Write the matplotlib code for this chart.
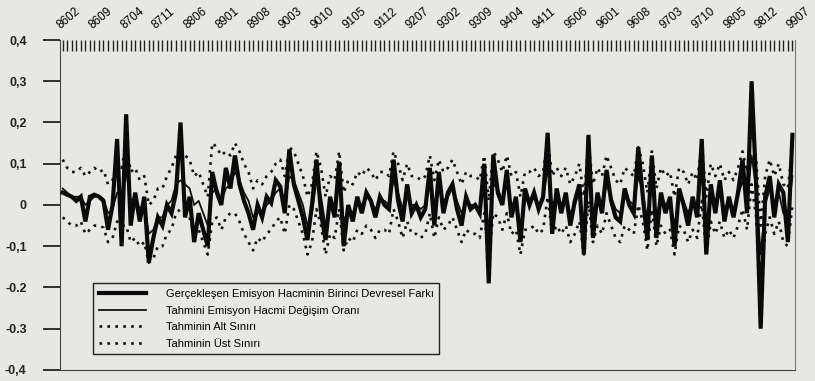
import matplotlib
matplotlib.use("Agg")
import matplotlib.pyplot as plt
from matplotlib.ticker import MultipleLocator

# monthly data 8602 .. 9907 (YYMM)
tick_labels = ["8602", "8609", "8704", "8711", "8806", "8901", "8908", "9003",
               "9010", "9105", "9112", "9207", "9302", "9309", "9404", "9411",
               "9506", "9601", "9608", "9703", "9710", "9805", "9812", "9907"]

# Gerçekleşen emisyon hacminin birinci devresel farkı
actual = [0.03, 0.025, 0.02, 0.01, 0.02, -0.04, 0.02, 0.025, 0.02, 0.01, -0.06, 0.0,
          0.16, -0.10, 0.22, -0.05, 0.03, -0.04, 0.02, -0.14, -0.08, -0.03, -0.05, 0.0,
          -0.02, 0.03, 0.20, -0.03, 0.02, -0.09, -0.02, -0.06, -0.10, 0.08, 0.03, 0.0,
          0.09, 0.04, 0.12, 0.05, 0.01, -0.02, -0.06, 0.0, -0.03, 0.02, 0.005, 0.06,
          0.045, -0.02, 0.135, 0.05, 0.01, -0.03, -0.085, 0.0, 0.11, -0.02, -0.085, 0.02,
          -0.03, 0.105, -0.10, 0.0, -0.04, 0.02, -0.02, 0.03, 0.01, -0.03, 0.02, 0.0,
          -0.01, 0.11, 0.01, -0.04, 0.05, -0.02, 0.0, -0.03, -0.01, 0.09, -0.05, 0.08,
          -0.02, 0.03, 0.05, -0.01, -0.05, 0.02, -0.01, 0.0, -0.02, 0.10, -0.19, 0.12,
          0.03, 0.0, 0.085, -0.03, 0.02, -0.09, 0.04, 0.0, 0.03, -0.01, 0.02, 0.175,
          -0.07, 0.04, -0.02, 0.03, -0.05, 0.01, 0.05, -0.12, 0.17, -0.08, 0.03, -0.02,
          0.085, 0.01, -0.03, -0.04, 0.04, 0.0, -0.02, 0.14, 0.02, -0.085, 0.12, -0.08,
          0.03, -0.02, 0.02, -0.10, 0.04, 0.0, -0.05, 0.02, -0.03, 0.16, -0.12, 0.05,
          -0.02, 0.06, -0.04, 0.02, -0.03, 0.03, 0.11, -0.02, 0.30, 0.05, -0.30, 0.02,
          0.07, -0.03, 0.05, 0.03, -0.09, 0.17]

# Tahmini emisyon hacmi değişim oranı
forecast = [0.04, 0.03, 0.02, 0.02, 0.02, 0.0, 0.01, 0.02, 0.02, 0.015, -0.02, -0.01,
            0.03, 0.02, 0.08, 0.01, 0.02, -0.01, 0.0, -0.07, -0.06, -0.03, -0.03, 0.0,
            0.01, 0.05, 0.06, 0.05, 0.04, 0.0, 0.01, -0.02, -0.05, 0.03, 0.04, 0.01,
            0.04, 0.05, 0.08, 0.06, 0.03, 0.01, -0.03, -0.01, -0.02, 0.0, 0.01, 0.03,
            0.04, 0.0, 0.07, 0.06, 0.03, 0.0, -0.05, -0.02, 0.06, 0.02, -0.05, 0.0,
            -0.01, 0.06, -0.04, -0.01, -0.02, 0.01, 0.0, 0.02, 0.01, -0.01, 0.01, 0.01,
            0.0, 0.06, 0.03, -0.01, 0.03, 0.0, 0.0, -0.01, 0.0, 0.05, -0.01, 0.04,
            0.01, 0.02, 0.04, 0.01, -0.02, 0.01, 0.0, 0.0, -0.01, 0.05, -0.06, 0.05,
            0.04, 0.01, 0.05, 0.0, 0.01, -0.05, 0.01, 0.01, 0.02, 0.0, 0.01, 0.09,
            0.0, 0.02, 0.0, 0.02, -0.02, 0.0, 0.03, -0.05, 0.08, -0.02, 0.02, 0.0,
            0.05, 0.02, -0.01, -0.02, 0.02, 0.01, 0.0, 0.07, 0.03, -0.04, 0.06, -0.03,
            0.02, 0.0, 0.01, -0.05, 0.02, 0.01, -0.02, 0.01, -0.01, 0.08, -0.05, 0.03,
            0.0, 0.03, -0.01, 0.01, -0.01, 0.02, 0.06, 0.01, 0.12, 0.04, -0.12, 0.0,
            0.04, 0.0, 0.03, -0.02, -0.03, 0.07]

# Tahminin alt sınırı
lower = [-0.03, -0.04, -0.05, -0.05, -0.04, -0.07, -0.06, -0.05, -0.05, -0.055, -0.09, -0.08,
         -0.04, -0.05, -0.05, -0.09, -0.08, -0.10, -0.09, -0.14, -0.13, -0.10, -0.10, -0.07,
         -0.06, -0.02, -0.01, -0.02, -0.03, -0.07, -0.06, -0.09, -0.12, -0.04, -0.03, -0.06,
         -0.03, -0.02, -0.02, -0.04, -0.07, -0.09, -0.11, -0.08, -0.09, -0.07, -0.06, -0.04,
         -0.03, -0.07, 0.0, -0.01, -0.04, -0.07, -0.12, -0.09, -0.01, -0.05, -0.12, -0.07,
         -0.08, -0.01, -0.11, -0.08, -0.09, -0.06, -0.07, -0.05, -0.06, -0.08, -0.06, -0.06,
         -0.07, -0.01, -0.04, -0.08, -0.04, -0.07, -0.07, -0.08, -0.07, -0.02, -0.08, -0.03,
         -0.06, -0.05, -0.03, -0.06, -0.09, -0.06, -0.07, -0.07, -0.08, -0.02, -0.13, -0.02,
         -0.03, -0.06, -0.02, -0.07, -0.06, -0.12, -0.06, -0.06, -0.05, -0.07, -0.06, 0.02,
         -0.07, -0.05, -0.07, -0.05, -0.09, -0.07, -0.04, -0.12, 0.01, -0.09, -0.05, -0.07,
         -0.02, -0.05, -0.08, -0.09, -0.05, -0.06, -0.07, 0.0, -0.04, -0.11, -0.01, -0.10,
         -0.05, -0.07, -0.06, -0.12, -0.05, -0.06, -0.09, -0.06, -0.08, 0.01, -0.12, -0.04,
         -0.07, -0.04, -0.08, -0.06, -0.08, -0.05, -0.01, -0.06, 0.05, -0.03, -0.19, -0.07,
         -0.03, -0.07, -0.04, -0.09, -0.10, 0.0]

# Tahminin üst sınırı
upper = [0.11, 0.09, 0.08, 0.08, 0.09, 0.07, 0.08, 0.09, 0.08, 0.085, 0.05, 0.06,
         0.10, 0.09, 0.15, 0.08, 0.09, 0.06, 0.07, 0.0, 0.01, 0.04, 0.04, 0.07,
         0.09, 0.12, 0.13, 0.12, 0.11, 0.07, 0.08, 0.05, 0.02, 0.15, 0.14, 0.12,
         0.13, 0.12, 0.15, 0.13, 0.10, 0.08, 0.04, 0.06, 0.05, 0.07, 0.08, 0.10,
         0.11, 0.07, 0.14, 0.13, 0.10, 0.07, 0.02, 0.05, 0.13, 0.09, 0.02, 0.07,
         0.06, 0.13, 0.03, 0.06, 0.05, 0.08, 0.07, 0.09, 0.08, 0.06, 0.08, 0.08,
         0.07, 0.13, 0.10, 0.06, 0.10, 0.07, 0.07, 0.06, 0.07, 0.12, 0.06, 0.11,
         0.08, 0.09, 0.11, 0.08, 0.05, 0.08, 0.07, 0.07, 0.06, 0.12, 0.01, 0.13,
         0.11, 0.08, 0.12, 0.07, 0.08, 0.02, 0.08, 0.08, 0.09, 0.07, 0.08, 0.16,
         0.07, 0.09, 0.07, 0.09, 0.05, 0.07, 0.10, 0.02, 0.15, 0.05, 0.09, 0.07,
         0.12, 0.09, 0.06, 0.05, 0.09, 0.08, 0.07, 0.14, 0.10, 0.03, 0.13, 0.04,
         0.09, 0.07, 0.08, 0.02, 0.09, 0.08, 0.05, 0.08, 0.06, 0.15, 0.02, 0.10,
         0.07, 0.10, 0.06, 0.08, 0.06, 0.09, 0.13, 0.08, 0.19, 0.11, -0.05, 0.07,
         0.11, 0.07, 0.10, 0.05, 0.04, 0.14]

y_ticks = [0.4, 0.3, 0.2, 0.1, 0.0, -0.1, -0.2, -0.3, -0.4]
y_labels = ["0,4", "0,3", "0,2", "0,1", "0", "-0,1", "-0.2", "-0.3", "-0,4"]

bg = "#e7e7e4"
plt.rcParams["font.family"] = ["Liberation Sans Narrow", "Liberation Sans", "DejaVu Sans"]

fig = plt.figure(figsize=(8.15, 3.81), dpi=100, facecolor=bg)
ax = fig.add_axes([0.0736, 0.029, 0.902, 0.866], facecolor=bg)

x = list(range(len(actual)))
ax.plot(x, lower, color="#111111", lw=1.9, ls=(0, (1.0, 2.0)), label="Tahminin Alt Sınırı", zorder=2)
ax.plot(x, upper, color="#111111", lw=1.9, ls=(0, (1.0, 2.0)), label="Tahminin Üst Sınırı", zorder=2)
ax.plot(x, forecast, color="#111111", lw=1.3, label="Tahmini Emisyon Hacmi Değişim Oranı", zorder=3)
ax.plot(x, actual, color="#0a0a0a", lw=3.0, solid_joinstyle="miter",
        label="Gerçekleşen Emisyon Hacminin Birinci Devresel Farkı", zorder=4)

ax.set_xlim(-0.6, len(actual) - 0.4)
ax.set_ylim(-0.4, 0.4)

# x axis on top: label every 7 months, tick every month
ax.xaxis.tick_top()
ax.set_xticks(range(0, len(actual), 7))
ax.set_xticklabels(tick_labels, rotation=40, ha="left", va="bottom", fontsize=8.5,
                   rotation_mode="anchor")
ax.xaxis.set_minor_locator(MultipleLocator(1))
ax.tick_params(axis="x", which="both", direction="in", length=8, width=1.0,
               color="#222222", pad=6)

ax.set_yticks(y_ticks)
ax.set_yticklabels(y_labels, fontsize=9, fontweight="bold", color="#222222")
ax.tick_params(axis="y", direction="out", length=12, width=1.3, pad=12, color="#222222")

ax.spines["top"].set_visible(False)
ax.spines["right"].set_color("#777777")
ax.spines["right"].set_linewidth(0.8)
ax.spines["left"].set_color("#444444")
ax.spines["bottom"].set_color("#444444")

handles, labels = ax.get_legend_handles_labels()
order = [3, 2, 0, 1]
leg = ax.legend([handles[i] for i in order], [labels[i] for i in order],
                loc="lower left", bbox_to_anchor=(0.038, 0.03), fontsize=8,
                frameon=True, fancybox=False, edgecolor="#222222", facecolor=bg,
                framealpha=1, handlelength=4.2, borderpad=0.5, labelspacing=0.6,
                handletextpad=1.8)
leg.get_frame().set_linewidth(1.0)

fig.savefig("out.png", dpi=100, facecolor=bg)
